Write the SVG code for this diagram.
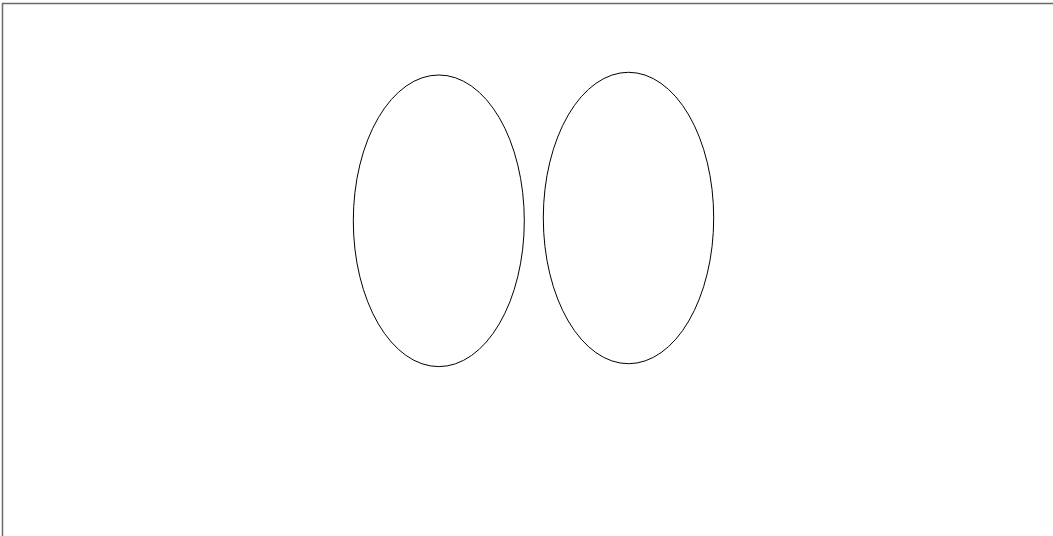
<svg xmlns="http://www.w3.org/2000/svg" width="1053" height="536" viewBox="0 0 1053 536">
<style>
.frame{fill:none;stroke:#6a6a6a;stroke-width:1.5}
.node{fill:#fff;stroke:#000;stroke-width:1}
</style>
<rect x="0" y="0" width="1053" height="536" fill="#fff"/>
<path class="frame" d="M2.5,540 V3.5 H1060"/>
<g id="node-1"><ellipse class="node" cx="438.8" cy="220.8" rx="85.5" ry="145.8"/></g>
<g id="node-2"><ellipse class="node" cx="628.5" cy="218" rx="85.2" ry="145.7"/></g>
<g id="connectors"></g>
</svg>
